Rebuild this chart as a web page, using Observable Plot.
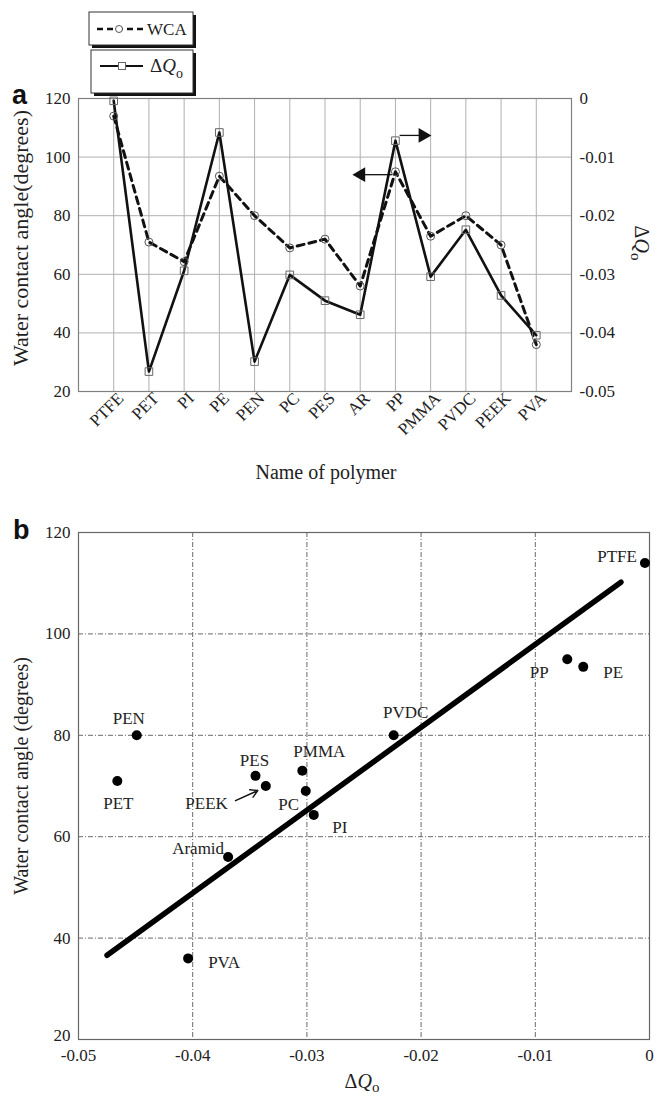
<!DOCTYPE html>
<html>
<head>
<meta charset="utf-8">
<script src="https://cdn.jsdelivr.net/npm/d3@7"></script>
<script src="https://cdn.jsdelivr.net/npm/@observablehq/plot@0.6"></script>
<style>
  html, body { margin: 0; padding: 0; background: white; }
  #wrap { position: relative; width: 655px; height: 1097px; overflow: hidden; font-family: 'Liberation Serif', 'Times New Roman', serif; color: #222; }
  .abs { position: absolute; }
  .lbl { position: absolute; white-space: nowrap; line-height: 1; transform: translate(-50%, -50%); }
  .letter { position: absolute; font-family: 'Liberation Sans', Arial, sans-serif; font-weight: bold; font-size: 27px; line-height: 1; color: #111; }
  sub { font-size: 0.75em; vertical-align: -0.25em; }
</style>
</head>
<body>
<div id="wrap">
  <div id="pa" class="abs" style="left:0;top:0"></div>
  <div id="pb" class="abs" style="left:0;top:500px"></div>
  <svg class="abs" style="left:0;top:0" width="210" height="100">
    <rect x="92" y="15" width="104" height="33" fill="#111"/>
    <rect x="89" y="12" width="104" height="33" fill="white" stroke="#333" stroke-width="1"/>
    <line x1="97" x2="143" y1="29" y2="29" stroke="#111" stroke-width="2.5" stroke-dasharray="6,4"/>
    <circle cx="119" cy="29" r="3.5" fill="white" stroke="#555" stroke-width="1"/>
    <text x="147" y="35" font-size="17" fill="#222" font-family="'Liberation Serif', serif">WCA</text>
    <rect x="94" y="53" width="102" height="43" fill="#111"/>
    <rect x="91" y="50" width="102" height="43" fill="white" stroke="#333" stroke-width="1"/>
    <line x1="100" x2="143" y1="66" y2="66" stroke="#111" stroke-width="2"/>
    <rect x="118.5" y="62.5" width="7" height="7" fill="white" stroke="#666" stroke-width="1"/>
    <text x="150" y="72" font-size="19" fill="#222" font-family="'Liberation Serif', serif">Δ<tspan font-style="italic">Q</tspan><tspan font-size="14" dy="6">o</tspan></text>
  </svg>
  <div class="letter" style="left:12px;top:82px">a</div>
  <div class="letter" style="left:13px;top:517px">b</div>
  <div class="lbl" style="left:21px;top:238px;font-size:22px;transform:translate(-50%,-50%) rotate(-90deg)">Water contact angle(degrees)</div>
  <div class="lbl" style="left:640px;top:243px;font-size:20px;transform:translate(-50%,-50%) rotate(90deg)">Δ<i>Q</i><sub>o</sub></div>
  <div class="lbl" style="left:326px;top:472px;font-size:20px">Name of polymer</div>
  <div class="lbl" style="left:21px;top:776px;font-size:20px;transform:translate(-50%,-50%) rotate(-90deg)">Water contact angle (degrees)</div>
  <div class="lbl" style="left:362px;top:1083px;font-size:20px">Δ<i>Q</i><sub>o</sub></div>
</div>
<script>
// ---------- data ----------
const polymers = ["PTFE","PET","PI","PE","PEN","PC","PES","AR","PP","PMMA","PVDC","PEEK","PVA"];
const scatterNames = ["PTFE","PET","PI","PE","PEN","PC","PES","Aramid","PP","PMMA","PVDC","PEEK","PVA"];
const wca = [114, 71, 64.3, 93.5, 80, 69, 72, 56, 95, 73, 80, 70, 36];
const dQo = [-0.0004, -0.0466, -0.0294, -0.0058, -0.0449, -0.0301, -0.0345, -0.0369, -0.0072, -0.0304, -0.0224, -0.0336, -0.0404];
const wcaTicks = [20, 40, 60, 80, 100, 120];
const dQoTicks = [0, -0.01, -0.02, -0.03, -0.04, -0.05];
const dQoTicksB = [-0.05, -0.04, -0.03, -0.02, -0.01, 0];
const fitX = [-0.0475, -0.0025];
const fitY = [36.6, 110.2];

// ---------- layout (annotation placement) ----------
const toRight = v => 120 + v * 2000;   // right axis (ΔQo) onto left axis (WCA) range
const fmtQ = v => (Math.abs(v) < 1e-9 ? "0" : v.toFixed(2));
const axisArrowsA = [
  {x1: 9.12, x2: 9.72, y: 107.4, tip: 9.78, rot: 90},
  {x1: 8.9, x2: 8.1, y: 94.0, tip: 8.02, rot: -90}
];
const labelLayoutB = {
  PTFE: {dx: -8, dy: -6, a: "end"},
  PP: {dx: -28, dy: 13, a: "middle"},
  PE: {dx: 20, dy: 6, a: "start"},
  PVDC: {dx: 12, dy: -23, a: "middle"},
  PMMA: {dx: 17, dy: -19, a: "middle"},
  PEN: {dx: -8, dy: -17, a: "middle"},
  PES: {dx: -1, dy: -15, a: "middle"},
  PEEK: {dx: -38, dy: 18, a: "end"},
  PET: {dx: 1, dy: 23, a: "middle"},
  PC: {dx: -17, dy: 13, a: "middle"},
  PI: {dx: 26, dy: 13, a: "middle"},
  Aramid: {dx: -4, dy: -8, a: "end"},
  PVA: {dx: 20, dy: 4, a: "start"}
};
const peekArrow = [{x1: -0.03625, y1: 67.1, x2: -0.0343, y2: 69.1}];

const idx = polymers.map((p, i) => i + 1);

// ---------- panel a ----------
const gridA = {stroke: "#b0b0b0", strokeOpacity: 1, strokeWidth: 1};
const pa = Plot.plot({
  width: 655, height: 500,
  marginTop: 98, marginLeft: 78, marginRight: 84, marginBottom: 109,
  style: {fontFamily: "'Liberation Serif', serif", fontSize: "17px", color: "#222", background: "transparent"},
  x: {type: "linear", domain: [0, 14]},
  y: {domain: [20, 120]},
  marks: [
    Plot.gridX(idx, gridA),
    Plot.gridY([40, 60, 80, 100], gridA),
    Plot.frame({stroke: "#808080", strokeWidth: 1.2}),
    Plot.axisY(wcaTicks, {anchor: "left", tickSize: 0, tickPadding: 8, label: null}),
    Plot.axisY(dQoTicks.map(toRight), {anchor: "right", tickSize: 0, tickPadding: 8, label: null, tickFormat: d => fmtQ((d - 120) / 2000)}),
    Plot.axisX(idx, {anchor: "bottom", tickSize: 0, tickPadding: 4, tickRotate: -45, dx: 7, label: null, fontSize: 17, tickFormat: i => polymers[i - 1]}),
    Plot.line(wca, {x: (d, i) => i + 1, y: d => d, stroke: "#111", strokeWidth: 3, strokeDasharray: "7,5"}),
    Plot.line(dQo, {x: (d, i) => i + 1, y: d => toRight(d), stroke: "#111", strokeWidth: 2.6}),
    Plot.dot(wca, {x: (d, i) => i + 1, y: d => d, r: 4, fill: "none", stroke: "#555", strokeWidth: 1}),
    Plot.dot(dQo, {x: (d, i) => i + 1, y: d => toRight(d), symbol: "square", r: 4.3, fill: "none", stroke: "#666", strokeWidth: 1}),
    Plot.link(axisArrowsA, {x1: "x1", x2: "x2", y1: "y", y2: "y", stroke: "#111", strokeWidth: 1.3}),
    Plot.dot(axisArrowsA, {x: "tip", y: "y", symbol: "triangle", r: 5.5, fill: "#111", stroke: "none", rotate: "rot"})
  ]
});
document.getElementById("pa").append(pa);

// ---------- panel b ----------
const gridB = {stroke: "#6a6a6a", strokeOpacity: 1, strokeWidth: 1, strokeDasharray: "5,2,1,2"};
const pts = dQo.map((q, i) => ({x: q, y: wca[i], name: scatterNames[i]}));
const pb = Plot.plot({
  width: 655, height: 597,
  marginTop: 32, marginLeft: 78, marginRight: 6, marginBottom: 58,
  style: {fontFamily: "'Liberation Serif', serif", fontSize: "17px", color: "#222", background: "transparent"},
  x: {domain: [-0.05, 0]},
  y: {domain: [20, 120]},
  marks: [
    Plot.gridX([-0.04, -0.03, -0.02, -0.01], gridB),
    Plot.gridY([40, 60, 80, 100], gridB),
    Plot.frame({stroke: "#666", strokeWidth: 1.2}),
    Plot.axisY(wcaTicks.slice(1), {anchor: "left", tickSize: 0, tickPadding: 8, label: null}),
    Plot.axisY(wcaTicks.slice(0, 1), {anchor: "left", tickSize: 0, tickPadding: 8, dy: -4, label: null}),
    Plot.axisX(dQoTicksB, {anchor: "bottom", tickSize: 0, tickPadding: 9, label: null, tickFormat: fmtQ}),
    Plot.line(fitX.map((x, i) => ({x, y: fitY[i]})), {x: "x", y: "y", stroke: "#000", strokeWidth: 5.5}),
    Plot.dot(pts, {x: "x", y: "y", r: 5, fill: "#000", stroke: "none"}),
    ...pts.map(p => {
      const L = labelLayoutB[p.name];
      return Plot.text([p], {x: "x", y: "y", text: "name", dx: L.dx, dy: L.dy, textAnchor: L.a, fontSize: 17, fill: "#222"});
    }),
    Plot.arrow(peekArrow, {x1: "x1", y1: "y1", x2: "x2", y2: "y2", stroke: "#111", strokeWidth: 1.4, headLength: 9})
  ]
});
document.getElementById("pb").append(pb);
</script>
</body>
</html>
